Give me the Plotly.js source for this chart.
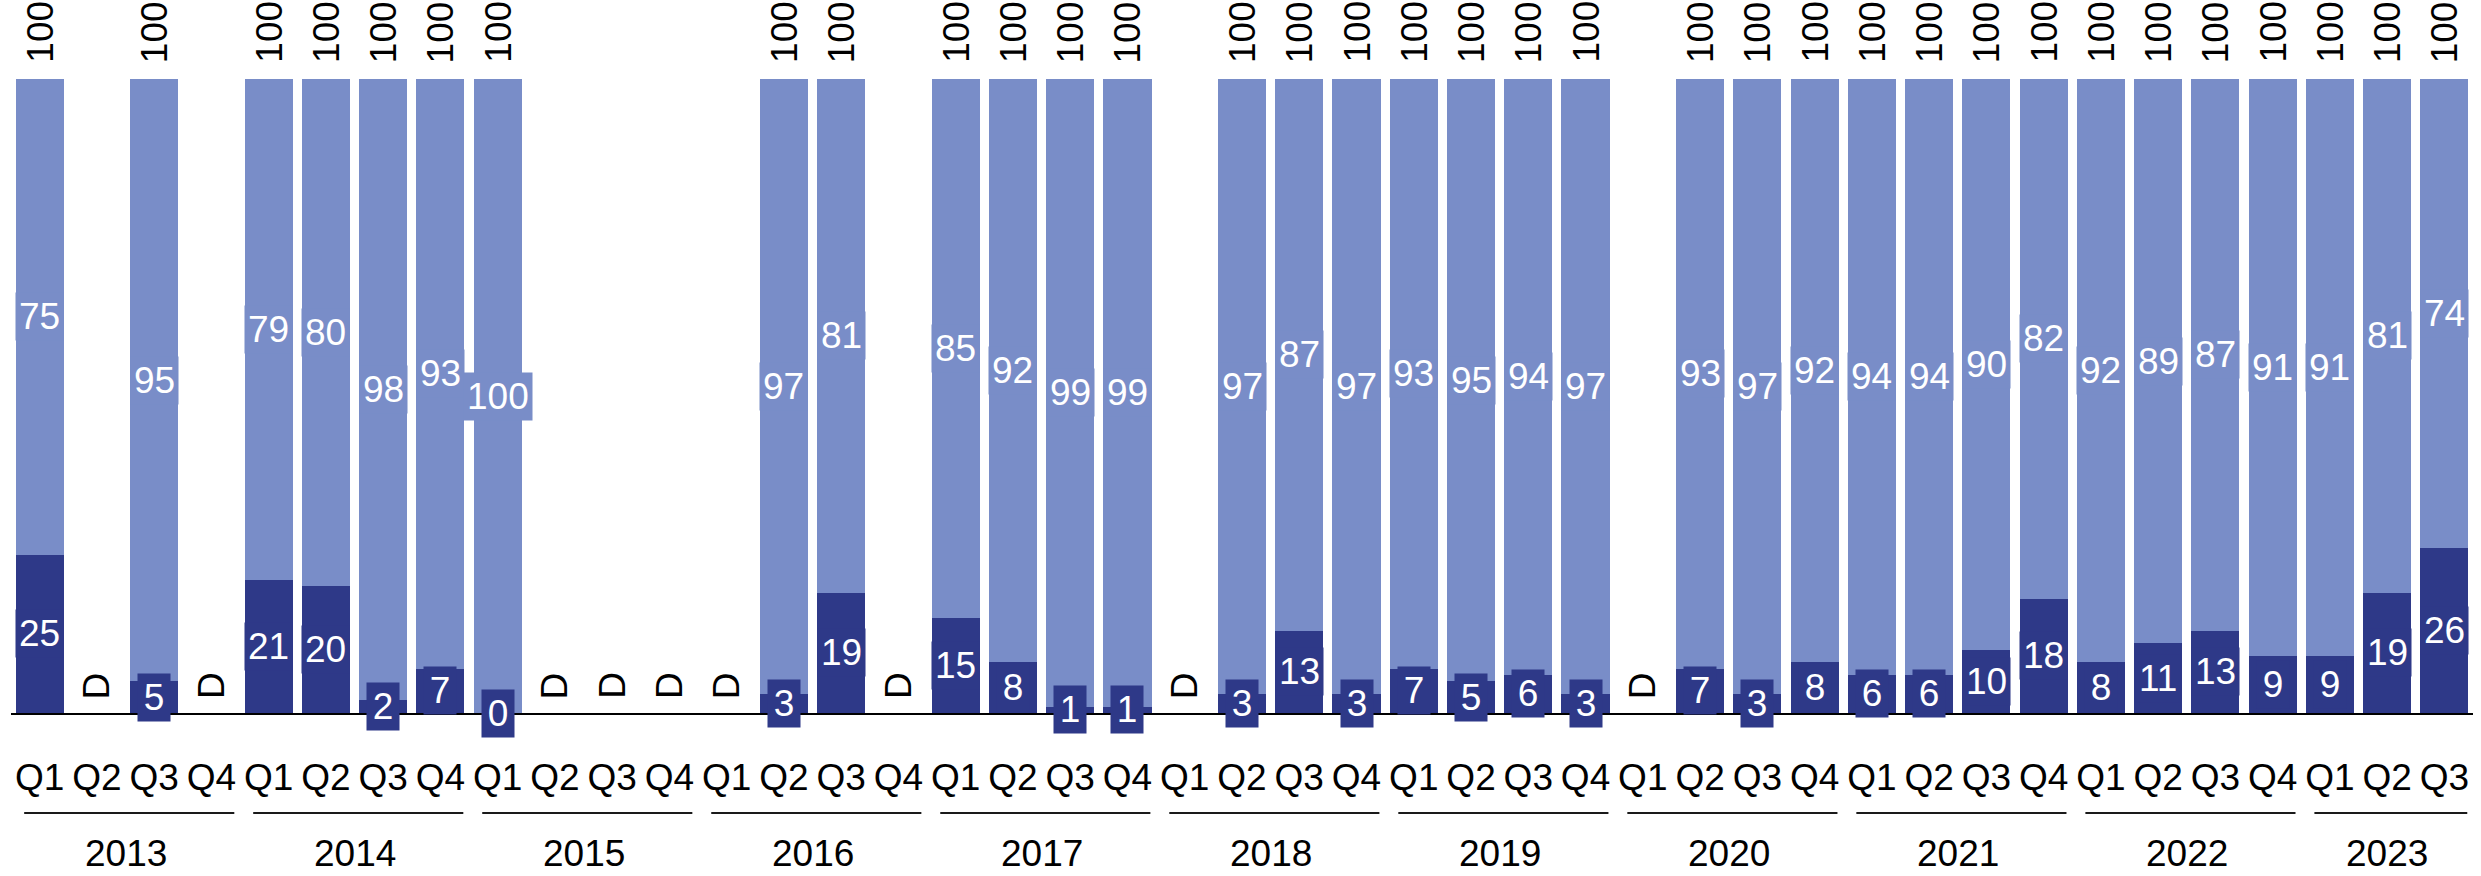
<!DOCTYPE html>
<html>
<head>
<meta charset="utf-8">
<script src="https://cdn.plot.ly/plotly-3.0.1.min.js"></script>
<style>
html,body{margin:0;padding:0;background:#fff;}
#chart{width:2481px;height:876px;}
</style>
</head>
<body>
<div id="chart"></div>
<script>
// ---- data ----
const year = [
  '2013','2013','2013','2013',
  '2014','2014','2014','2014',
  '2015','2015','2015','2015',
  '2016','2016','2016','2016',
  '2017','2017','2017','2017',
  '2018','2018','2018','2018',
  '2019','2019','2019','2019',
  '2020','2020','2020','2020',
  '2021','2021','2021','2021',
  '2022','2022','2022','2022',
  '2023','2023','2023'
];
const quarter = [
  'Q1','Q2','Q3','Q4','Q1','Q2','Q3','Q4','Q1','Q2','Q3','Q4',
  'Q1','Q2','Q3','Q4','Q1','Q2','Q3','Q4','Q1','Q2','Q3','Q4',
  'Q1','Q2','Q3','Q4','Q1','Q2','Q3','Q4','Q1','Q2','Q3','Q4',
  'Q1','Q2','Q3','Q4','Q1','Q2','Q3'
];
// null = suppressed ("D")
const darkValues = [
  25,null,5,null,   21,20,2,7,   0,null,null,null,   null,3,19,null,
  15,8,1,1,         null,3,13,3, 7,5,6,3,            null,7,3,8,
  6,6,10,18,        8,11,13,9,   9,19,26
];
const lightValues = [
  75,null,95,null,  79,80,98,93, 100,null,null,null, null,97,81,null,
  85,92,99,99,      null,97,87,97, 93,95,94,97,      null,93,97,92,
  94,94,90,82,      92,89,87,91, 91,81,74
];
const suppressedLabel = 'D';

// ---- styling ----
const DARK = '#2e3988';
const LIGHT = '#798dc8';
const FONT = '"Liberation Sans", Arial, Helvetica, sans-serif';
const FS = 37;

const categories = year.map((y, i) => y + ' ' + quarter[i]);

const traces = [
  {
    type: 'bar', x: categories, y: darkValues, name: 'dark',
    marker: {color: DARK, line: {width: 0}}, hoverinfo: 'skip'
  },
  {
    type: 'bar', x: categories, y: lightValues, name: 'light',
    marker: {color: LIGHT, line: {width: 0}}, hoverinfo: 'skip'
  }
];

const annotations = [];
const shapes = [];

function segLabel(i, yVal, txt, bg) {
  const a = {
    x: i, y: yVal, xref: 'x', yref: 'y', text: txt,
    showarrow: false, bgcolor: bg, borderpad: 3,
    font: {family: FONT, size: FS, color: '#fff'}
  };
  if (txt.length === 1) a.width = 26;
  return a;
}

categories.forEach((c, i) => {
  const d = darkValues[i], l = lightValues[i];
  if (d === null || l === null) {
    annotations.push({
      x: i, y: 0, xref: 'x', yref: 'y', text: suppressedLabel,
      showarrow: false, textangle: -90, yanchor: 'bottom', yshift: 12,
      font: {family: FONT, size: FS, color: '#000'}, borderpad: 1
    });
    return;
  }
  annotations.push(segLabel(i, d / 2, String(d), DARK));
  annotations.push(segLabel(i, d + l / 2, String(l), LIGHT));
  annotations.push({
    x: i, y: d + l, xref: 'x', yref: 'y', text: String(d + l),
    showarrow: false, textangle: -90, yanchor: 'bottom', yshift: 14,
    font: {family: FONT, size: FS, color: '#000'}, borderpad: 1
  });
});

// year groups
const yearList = [...new Set(year)];
yearList.forEach(yr => {
  const first = year.indexOf(yr);
  const last = year.lastIndexOf(yr);
  annotations.push({
    x: (first + last) / 2, xref: 'x', y: 0, yref: 'paper', yanchor: 'bottom',
    yshift: -162, text: yr, showarrow: false, borderpad: 0,
    font: {family: FONT, size: FS, color: '#000'}
  });
  shapes.push({
    type: 'line', xref: 'x', yref: 'paper', ysizemode: 'pixel', yanchor: 0,
    x0: first - 0.27, x1: last + 0.4, y0: -100, y1: -100,
    line: {color: '#1a1a1a', width: 2}
  });
});

const layout = {
  width: 2481, height: 876,
  margin: {l: 11, r: 8, t: 79, b: 163, pad: 0},
  paper_bgcolor: '#fff', plot_bgcolor: '#fff',
  barmode: 'stack', bargap: 0.16,
  showlegend: false,
  xaxis: {
    type: 'category', range: [-0.5, categories.length - 0.5],
    tickmode: 'array', tickvals: categories, ticktext: quarter,
    showline: true, linecolor: '#000', linewidth: 2,
    ticks: '', showgrid: false, zeroline: false,
    tickfont: {family: FONT, size: FS, color: '#000'},
    ticklabelstandoff: 31, fixedrange: true
  },
  yaxis: {range: [0, 100], visible: false, fixedrange: true},
  annotations: annotations,
  shapes: shapes,
  font: {family: FONT}
};

Plotly.newPlot('chart', traces, layout, {staticPlot: true, displayModeBar: false});
</script>
</body>
</html>
